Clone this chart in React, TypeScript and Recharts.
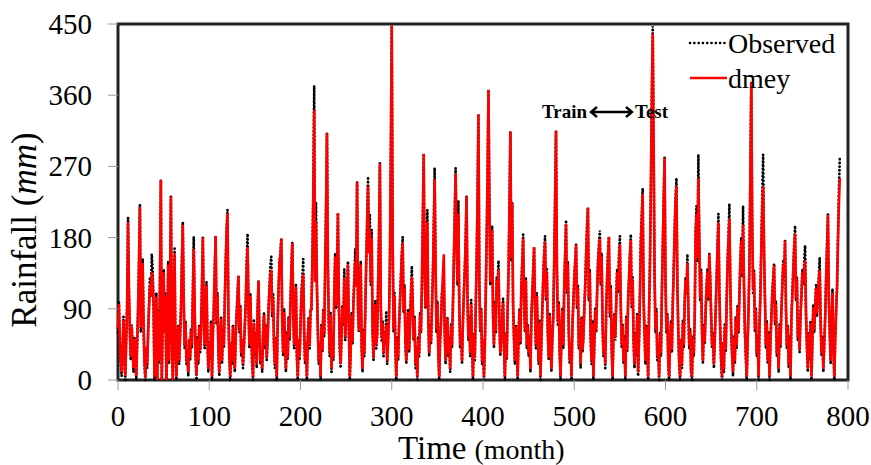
import React from 'react';
import { LineChart, Line, XAxis, YAxis, ReferenceArea } from 'recharts';

// Monthly rainfall (mm), observed series
const observed: number[] = [
  60, 100, 45, 20, 5, 35, 80, 30, 0, 50, 95, 205, 110, 60, 25, 70, 40, 10, 55, 30,
  0, 45, 90, 150, 222, 60, 95, 153, 70, 20, 0, 40, 15, 60, 95, 130, 110, 159, 140, 90,
  0, 60, 110, 0, 90, 20, 130, 253, 0, 80, 140, 60, 110, 0, 35, 150, 20, 120, 232,
  60, 0, 100, 166, 30, 0, 45, 70, 20, 55, 90, 150, 200, 100, 40, 75, 20, 35, 5, 50,
  25, 65, 40, 110, 181, 90, 30, 0, 55, 20, 70, 35, 60, 120, 180, 80, 40, 95, 124, 50,
  10, 45, 25, 75, 0, 60, 90, 140, 182, 70, 110, 35, 5, 50, 80, 20, 65, 40, 100, 150,
  190, 215, 80, 30, 0, 45, 20, 70, 35, 10, 55, 85, 110, 132, 60, 95, 30, 50, 15, 40,
  70, 100, 150, 185, 90, 40, 110, 60, 20, 0, 75, 30, 60, 15, 90, 125, 55, 20, 35,
  10, 60, 85, 40, 70, 25, 50, 90, 120, 145, 156, 80, 110, 40, 15, 55, 0, 75, 120, 150,
  160, 179, 70, 30, 90, 45, 10, 60, 25, 80, 50, 100, 140, 174, 90, 40, 85, 122, 30, 0,
  50, 25, 70, 110, 130, 153, 60, 20, 45, 0, 55, 80, 40, 90, 90, 150, 240, 372, 130, 225,
  120, 60, 20, 45, 0, 70, 35, 90, 55, 140, 220, 312, 150, 70, 30, 85, 10, 50, 25, 110,
  160, 90, 130, 211, 100, 40, 15, 60, 95, 70, 140, 50, 80, 110, 150, 60, 0, 35, 85,
  45, 100, 130, 166, 120, 250, 90, 60, 110, 150, 40, 10, 65, 30, 90, 150, 200, 257, 170, 210,
  120, 190, 60, 25, 70, 100, 40, 55, 120, 180, 274, 90, 50, 75, 30, 60, 45, 87, 20, 50,
  80, 150, 290, 448, 180, 60, 110, 40, 0, 55, 25, 70, 100, 130, 160, 181, 85, 120, 45, 20,
  60, 90, 35, 70, 110, 144, 100, 50, 80, 15, 40, 0, 55, 30, 85, 60, 120, 200, 286, 140,
  90, 160, 215, 80, 30, 70, 45, 90, 130, 190, 268, 150, 60, 100, 35, 0, 50, 75, 110,
  120, 143, 60, 20, 45, 80, 30, 55, 10, 70, 40, 95, 150, 210, 268, 180, 120, 227, 90, 40,
  60, 20, 75, 110, 140, 180, 232, 100, 50, 80, 30, 101, 45, 0, 60, 25, 90, 150, 230, 336,
  120, 60, 90, 20, 50, 0, 40, 110, 180, 260, 367, 230, 120, 150, 195, 80, 40, 100, 60, 130,
  120, 151, 70, 30, 55, 80, 103, 40, 0, 60, 25, 90, 140, 220, 314, 150, 224, 90, 50, 20,
  70, 35, 0, 60, 90, 45, 120, 150, 184, 100, 60, 130, 40, 70, 30, 55, 10, 80, 110,
  140, 168, 90, 40, 110, 60, 20, 75, 0, 50, 90, 130, 160, 182, 100, 140, 60, 25, 85, 45,
  10, 55, 80, 150, 230, 315, 140, 70, 100, 35, 0, 60, 90, 40, 120, 160, 202, 110, 150, 60,
  20, 45, 0, 70, 100, 130, 150, 171, 90, 120, 40, 60, 15, 80, 35, 55, 90, 120, 160, 195,
  218, 100, 140, 50, 20, 75, 0, 45, 90, 60, 110, 150, 170, 189, 120, 160, 70, 30, 55, 15,
  90, 130, 160, 181, 80, 120, 40, 0, 60, 85, 50, 100, 140, 110, 160, 182, 90, 40, 70,
  20, 55, 0, 80, 35, 100, 130, 160, 184, 90, 130, 50, 15, 60, 30, 85, 5, 50, 110, 180,
  210, 242, 100, 60, 20, 70, 40, 0, 90, 150, 250, 360, 447, 300, 130, 60, 90, 25, 45, 0,
  60, 30, 110, 170, 230, 281, 120, 60, 85, 20, 0, 45, 75, 35, 100, 140, 190, 230, 255, 120,
  60, 20, 0, 50, 15, 75, 40, 100, 130, 110, 159, 90, 40, 65, 10, 0, 55, 30, 80, 190,
  220, 150, 285, 180, 100, 140, 60, 20, 70, 45, 90, 120, 140, 100, 159, 130, 80, 40, 60,
  15, 50, 90, 130, 170, 210, 110, 60, 20, 0, 45, 10, 70, 35, 100, 150, 180, 223, 120, 60,
  30, 5, 55, 20, 80, 40, 95, 60, 110, 150, 180, 130, 220, 120, 60, 30, 0, 45, 90, 150,
  260, 376, 200, 110, 140, 60, 90, 30, 55, 0, 70, 110, 170, 230, 285, 160, 100, 40, 75, 20,
  60, 0, 45, 80, 110, 130, 147, 70, 100, 30, 55, 10, 70, 40, 90, 120, 150, 130, 176, 90,
  40, 70, 15, 55, 0, 80, 110, 140, 170, 195, 100, 130, 50, 65, 35, 85, 110, 140, 120,
  150, 170, 80, 40, 10, 60, 25, 75, 0, 50, 95, 60, 90, 120, 80, 110, 130, 155, 70, 30,
  55, 10, 45, 80, 130, 170, 209, 100, 60, 20, 70, 115, 40, 0, 55, 90, 120, 180, 240, 280,
];

// dmey wavelet model output (mm)
const dmey: number[] = [
  65, 96, 50, 25, 10, 38, 76, 33, 5, 52, 92, 200, 115, 62, 30, 68, 44, 15, 52, 35,
  5, 48, 88, 146, 219, 66, 92, 148, 74, 24, 3, 42, 20, 58, 92, 120, 105, 136, 128, 92,
  4, 58, 105, 0, 86, 24, 126, 253, 0, 78, 136, 62, 106, 0, 38, 146, 24, 118, 232,
  64, 0, 96, 160, 34, 4, 48, 68, 24, 56, 88, 146, 196, 104, 44, 72, 24, 38, 10, 52,
  28, 62, 44, 104, 166, 94, 34, 6, 52, 24, 68, 38, 62, 116, 180, 84, 44, 92, 120, 54,
  14, 48, 28, 72, 4, 58, 88, 136, 182, 74, 106, 38, 10, 52, 78, 24, 62, 44, 98, 146,
  186, 211, 84, 34, 4, 48, 24, 68, 38, 14, 56, 82, 106, 132, 64, 92, 34, 52, 20, 44,
  68, 98, 140, 168, 94, 44, 106, 62, 24, 4, 72, 34, 58, 20, 88, 125, 58, 24, 38,
  14, 58, 82, 44, 68, 28, 52, 88, 116, 132, 139, 84, 104, 44, 20, 52, 4, 72, 116, 148,
  158, 179, 74, 34, 86, 48, 14, 58, 28, 78, 54, 98, 136, 173, 94, 44, 82, 118, 34, 4,
  52, 30, 68, 104, 122, 134, 64, 24, 48, 4, 52, 78, 44, 88, 92, 148, 230, 341, 124, 200,
  116, 64, 24, 48, 4, 68, 38, 88, 58, 136, 214, 312, 146, 74, 34, 82, 14, 52, 28, 106,
  156, 94, 126, 211, 104, 44, 20, 58, 92, 72, 130, 54, 78, 106, 146, 64, 4, 38, 82,
  48, 96, 124, 150, 118, 250, 94, 62, 106, 146, 44, 14, 62, 34, 88, 146, 196, 245, 160, 190,
  124, 180, 64, 28, 68, 96, 44, 58, 116, 176, 274, 94, 54, 72, 34, 58, 48, 70, 24, 52,
  78, 146, 286, 448, 176, 64, 106, 44, 4, 52, 28, 68, 96, 126, 156, 173, 88, 116, 48, 24,
  58, 86, 38, 68, 106, 130, 96, 52, 78, 20, 42, 4, 52, 34, 82, 62, 116, 196, 286, 144,
  92, 150, 200, 84, 34, 68, 48, 88, 126, 186, 254, 146, 64, 96, 38, 4, 52, 72, 106,
  130, 159, 64, 24, 48, 78, 34, 52, 14, 68, 44, 92, 146, 206, 261, 176, 124, 210, 94, 44,
  62, 24, 72, 106, 136, 176, 232, 104, 54, 78, 34, 96, 48, 4, 58, 28, 88, 146, 226, 336,
  124, 64, 88, 24, 52, 4, 44, 106, 176, 256, 367, 226, 124, 146, 190, 84, 44, 96, 62, 126,
  116, 140, 74, 34, 52, 78, 98, 44, 4, 58, 28, 88, 136, 216, 314, 154, 224, 94, 52, 24,
  68, 38, 4, 58, 88, 48, 116, 146, 179, 104, 62, 126, 44, 68, 34, 52, 14, 78, 106,
  136, 168, 94, 44, 106, 62, 24, 72, 4, 52, 88, 126, 156, 175, 104, 136, 64, 28, 82, 48,
  14, 52, 78, 146, 226, 315, 144, 74, 96, 38, 4, 58, 88, 44, 116, 156, 197, 114, 146, 64,
  24, 48, 4, 68, 96, 126, 146, 171, 94, 116, 44, 58, 20, 78, 38, 52, 88, 116, 156, 190,
  218, 104, 136, 54, 24, 72, 4, 48, 88, 62, 106, 146, 166, 179, 124, 156, 74, 34, 52, 20,
  88, 126, 156, 181, 84, 116, 44, 4, 58, 82, 54, 96, 136, 114, 150, 172, 94, 44, 68,
  24, 52, 4, 78, 38, 96, 126, 156, 177, 94, 126, 54, 20, 58, 34, 82, 10, 52, 106, 174,
  204, 235, 104, 62, 24, 68, 44, 4, 88, 146, 244, 350, 438, 296, 134, 64, 86, 30, 48, 4,
  58, 34, 106, 166, 226, 281, 124, 64, 82, 24, 4, 48, 72, 38, 96, 136, 186, 224, 245, 124,
  64, 24, 4, 52, 20, 72, 44, 96, 126, 112, 148, 94, 44, 62, 14, 4, 52, 34, 78, 180,
  210, 154, 255, 184, 104, 136, 64, 24, 68, 48, 88, 116, 136, 104, 159, 126, 84, 44, 58,
  20, 52, 88, 126, 166, 199, 114, 64, 24, 4, 48, 14, 68, 38, 96, 146, 176, 204, 124, 64,
  34, 10, 52, 24, 78, 44, 92, 62, 106, 146, 176, 134, 196, 124, 64, 34, 4, 48, 88, 146,
  256, 376, 204, 114, 136, 64, 88, 34, 52, 4, 68, 106, 166, 216, 245, 164, 104, 44, 72, 24,
  58, 4, 48, 78, 106, 126, 145, 74, 96, 34, 52, 14, 68, 44, 88, 116, 146, 134, 176, 94,
  44, 68, 20, 52, 4, 78, 106, 136, 166, 185, 104, 126, 54, 62, 38, 82, 106, 136, 124,
  140, 151, 84, 44, 14, 58, 28, 72, 4, 52, 92, 64, 88, 116, 84, 106, 126, 139, 74, 34,
  52, 14, 48, 78, 126, 166, 209, 104, 62, 24, 68, 110, 44, 4, 52, 86, 116, 174, 220, 255,
];

const xTicks = [0, 100, 200, 300, 400, 500, 600, 700, 800];
const yTicks = [0, 90, 180, 270, 360, 450];
const seriesNames = { observed: 'Observed', dmey: 'dmey' };
const xTitle = ['Time', '(month)'];
const yTitle = ['Rainfall ', 'mm'];
const annotation = ['Train', 'Test'];

const data = observed.map((v, i) => ({ month: i, observed: v, dmey: dmey[i] }));

const FONT = '"Liberation Serif", "Times New Roman", serif';

const XTick = (props: any) => {
  const { x, y, payload } = props;
  return (
    <text x={x} y={y} dy={21} textAnchor="middle" fontFamily={FONT} fontSize={29} fill="#000">
      {payload.value}
    </text>
  );
};

const YTick = (props: any) => {
  const { x, y, payload } = props;
  return (
    <text x={x} y={y} dy={10} textAnchor="end" fontFamily={FONT} fontSize={29} fill="#000">
      {payload.value}
    </text>
  );
};

export default function App() {
  return (
    <div style={{ position: 'absolute', left: 0, top: 0, width: 871, height: 465, background: '#fff' }}>
      <LineChart width={871} height={465} data={data}
        margin={{ top: 24, right: 23, left: 0, bottom: 0 }}>
        <XAxis dataKey="month" type="number" domain={[0, 800]} ticks={xTicks}
          height={85} axisLine={false} tickSize={10} tickMargin={15}
          tickLine={{ stroke: '#999', strokeWidth: 1 }}
          tick={<XTick />} interval={0} />
        <YAxis type="number" domain={[0, 450]} ticks={yTicks} width={118}
          axisLine={false} tickSize={10} tickMargin={16}
          tickLine={{ stroke: '#999', strokeWidth: 1 }}
          tick={<YTick />} interval={0} />
        <Line type="linear" dataKey="observed" stroke="#000" strokeWidth={2.8}
          strokeDasharray="0.1 3.6" strokeLinecap="round" dot={false}
          activeDot={false} isAnimationActive={false} />
        <Line type="linear" dataKey="dmey" stroke="#ff0000" strokeWidth={2.6}
          dot={false} activeDot={false} isAnimationActive={false} />
        <ReferenceArea x1={0} x2={800} y1={0} y2={450} fill="none" fillOpacity={0}
          stroke="#222" strokeWidth={3} ifOverflow="visible" />
      </LineChart>
      <svg width={871} height={465} style={{ position: 'absolute', left: 0, top: 0, pointerEvents: 'none' }}>
        <g transform="translate(685,25)">
          <line x1={5} x2={42} y1={18} y2={18} stroke="#000" strokeWidth={2.6}
            strokeDasharray="0.1 4.2" strokeLinecap="round" />
          <text x={43} y={28} fontFamily={FONT} fontSize={28} fill="#000">{seriesNames.observed}</text>
          <line x1={5} x2={42} y1={53} y2={53} stroke="#ff0000" strokeWidth={2.6} />
          <text x={43} y={63} fontFamily={FONT} fontSize={28} fill="#000">{seriesNames.dmey}</text>
        </g>
        <text transform="translate(36,230) rotate(-90)" textAnchor="middle" fontFamily={FONT} fontSize={35} fill="#000">
          {yTitle[0]}(<tspan fontStyle="italic">{yTitle[1]}</tspan>)
        </text>
        <text x={398} y={459} fontFamily={FONT} fill="#000">
          <tspan fontSize={33}>{xTitle[0]}</tspan>
          <tspan fontSize={28} dx={8}>{xTitle[1]}</tspan>
        </text>
        <text x={587} y={118} textAnchor="end" fontFamily={FONT} fontWeight="bold" fontSize={19} fill="#000">{annotation[0]}</text>
        <path d="M591,112 L632,112 M597,107 L591,112 L597,117 M626,107 L632,112 L626,117"
          stroke="#000" strokeWidth={2.4} fill="none" />
        <text x={635} y={118} fontFamily={FONT} fontWeight="bold" fontSize={19} fill="#000">{annotation[1]}</text>
      </svg>
    </div>
  );
}
